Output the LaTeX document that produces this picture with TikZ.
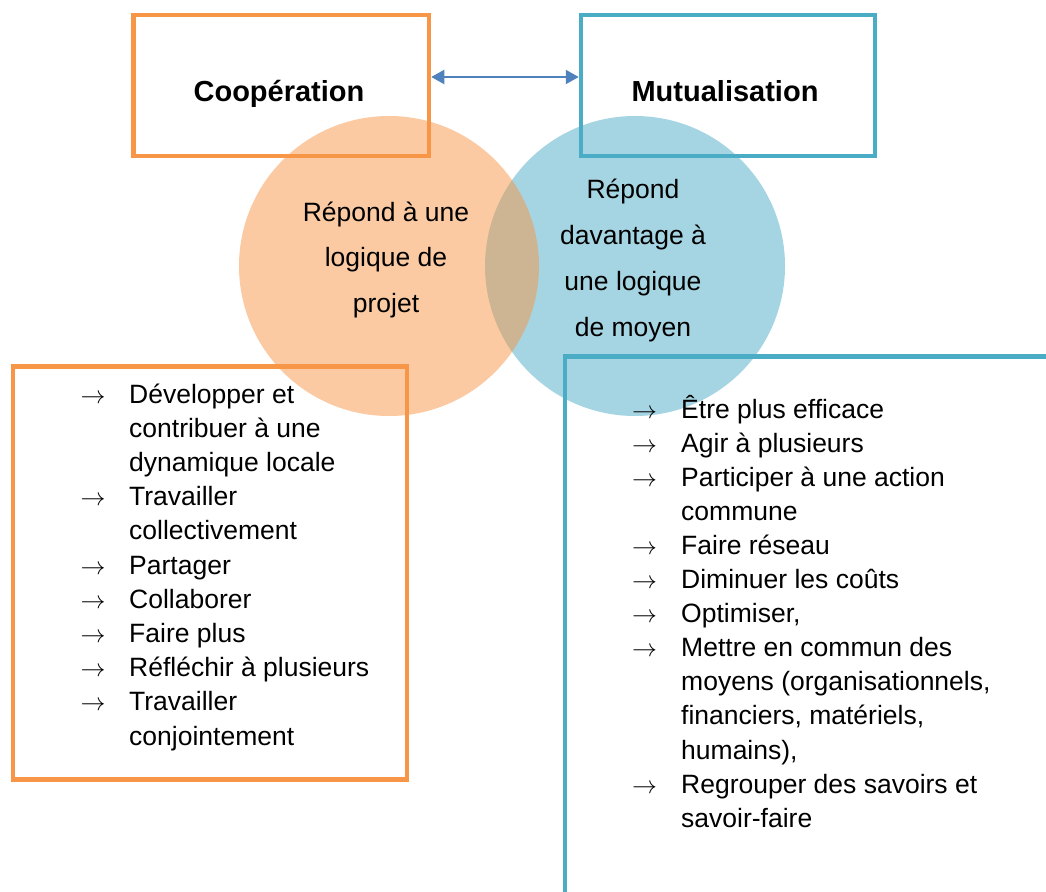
\documentclass[tikz,border=0pt]{standalone}
\usepackage{fontspec}
\setmainfont{Liberation Sans}
\usetikzlibrary{arrows.meta}
\definecolor{orng}{HTML}{F79646}
\definecolor{blu}{HTML}{4BACC6}
\definecolor{arr}{HTML}{4F81BD}
\begin{document}
\begin{tikzpicture}[x=1pt,y=-1pt,
  obox/.style={draw=orng,line width=4.5pt,inner sep=0pt,rectangle},
  bbox/.style={draw=blu,line width=4.5pt,inner sep=0pt,rectangle},
  ttl/.style={font=\fontsize{29}{34}\selectfont\bfseries,anchor=base,inner sep=0pt},
  txt/.style={font=\fontsize{26.5}{32}\selectfont,inner sep=0pt},
  ctxt/.style={txt,anchor=base},
  itm/.style={txt,anchor=base west},
  arrw/.style={font=\fontsize{26}{30}\selectfont,inner sep=0pt,anchor=base west},
  blob/.style={circle,fill opacity=0.5,minimum size=300pt,inner sep=0pt}
]
\useasboundingbox (0,0) rectangle (1046,891);

% top boxes
\node[obox,minimum width=295.5pt,minimum height=141pt] (coopbox) at (281.25,85.5) {};
\node[bbox,minimum width=294pt,minimum height=141pt] (mutubox) at (728,85.5) {};
\node[ttl] (cooptitle) at (279,101.5) {Coopération};
\node[ttl] (mututitle) at (725,101.5) {Mutualisation};

\draw[arr,line width=2pt,{Triangle[length=13pt,width=14pt]}-{Triangle[length=13pt,width=14pt]}]
  ([yshift=8.5pt]coopbox.east) -- ([yshift=8.5pt]mutubox.west);

% list boxes
\node[obox,minimum width=394pt,minimum height=413pt] (obox) at (210,573) {};
\draw[blu,line width=4.5pt,line join=miter] (565,896) -- (565,356.5) -- (1050,356.5);

% circles (blue first, orange over it)
\node[blob,fill=blu] (bcirc) at (635,266) {};
\node[blob,fill=orng] (ocirc) at (389,266) {};

% circle texts
\node[ctxt] (oc1) at (386,221) {Répond à une};
\node[ctxt] (oc2) at (386,266.5) {logique de};
\node[ctxt] (oc3) at (386,312) {projet};
\node[ctxt] (bc1) at (633,198) {Répond};
\node[ctxt] (bc2) at (633,244) {davantage à};
\node[ctxt] (bc3) at (633,290) {une logique};
\node[ctxt] (bc4) at (633,336) {de moyen};

% left list
\foreach \i/\t in {0/Développer et,1/contribuer à une,2/dynamique locale,3/Travailler,4/collectivement,5/Partager,6/Collaborer,7/Faire plus,8/Réfléchir à plusieurs,9/Travailler,10/conjointement}
  \node[itm] (L\i) at (129,403+34.2*\i) {\t};
\foreach \i in {0,3,5,6,7,8,9}
  \node[arrw] (LA\i) at (80.5,403+34.2*\i) {$\rightarrow$};

% right list
\foreach \i/\t in {0/Être plus efficace,1/Agir à plusieurs,2/Participer à une action,3/commune,4/Faire réseau,5/Diminuer les coûts,6/{Optimiser,},7/Mettre en commun des,8/{moyens (organisationnels,},9/{financiers, matériels,},10/{humains),},11/Regrouper des savoirs et,12/savoir-faire}
  \node[itm] (R\i) at (681,418+34.1*\i) {\t};
\foreach \i in {0,1,2,4,5,6,7,11}
  \node[arrw] (RA\i) at (632,418+34.1*\i) {$\rightarrow$};
\end{tikzpicture}
\end{document}
